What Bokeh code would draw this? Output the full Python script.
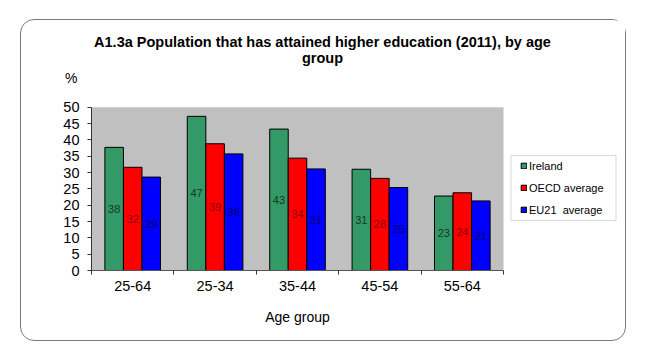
from bokeh.plotting import figure
from bokeh.models import (ColumnDataSource, LabelSet, Label, Legend, LegendItem, FixedTicker,
                          Range1d, BoxAnnotation, LinearAxis)
from bokeh.core.properties import value
from bokeh.embed import file_html
from bokeh.resources import INLINE

categories = ["25-64", "25-34", "35-44", "45-54", "55-64"]
ireland = [37.7, 47.2, 43.3, 31.0, 22.8]
oecd = [31.6, 38.8, 34.4, 28.2, 23.8]
eu21 = [28.6, 35.7, 31.1, 25.4, 21.3]
series_names = ["Ireland", "OECD average", "EU21  average"]
y_ticks = [0, 5, 10, 15, 20, 25, 30, 35, 40, 45, 50]
y_max = 50

FONT = "Liberation Sans"
# canvas sits inside a 1px CSS border at page offset (21, 20)
W, H = 606, 322
FL, FB = 70, 72                 # left / bottom panels (axes)
FW, FH = W - FL, H - FB          # frame size (frame also spans title & legend area)
PX_X = 412 / len(categories)     # px per category
PX_Y = 163.3 / y_max             # px per percent

def sx(page_x):                  # page x -> frame-relative screen x
    return page_x - 21 - FL

def sy(page_y):                  # page y -> frame-relative screen y (from bottom)
    return (20 + FH) - page_y

p = figure(width=W, height=H, output_backend="svg", toolbar_location=None,
           x_range=Range1d(0, FW / PX_X), y_range=Range1d(0, FH / PX_Y),
           min_border_left=FL, min_border_right=0, min_border_top=0, min_border_bottom=FB,
           background_fill_color="white", border_fill_color=None)
p.styles = {"margin-left": "20px", "margin-top": "19px", "border": "1px solid #7a7a7a",
            "border-radius": "14px"}
p.outline_line_color = None
p.grid.visible = False

# grey plot area
p.add_layout(BoxAnnotation(left=0, right=len(categories), bottom=0, top=y_max,
                           fill_color="#C0C0C0", fill_alpha=1, line_color=None, level="underlay"))

bw = 0.225
colors = ["#339966", "#FF0000", "#0000FF"]
label_colors = ["#123a24", "#900000", "#000066"]
renderers = []
for k, (vals, col, lc) in enumerate(zip([ireland, oecd, eu21], colors, label_colors)):
    off = (k - 1) * bw
    xs = [i + 0.5 + off for i in range(len(categories))]
    src = ColumnDataSource(dict(x=xs, top=vals, mid=[v / 2 for v in vals],
                                lab=[f"{round(v)}" for v in vals]))
    r = p.vbar(x="x", top="top", bottom=0, width=bw, source=src,
               fill_color=col, line_color="black", line_width=1)
    renderers.append(r)
    p.add_layout(LabelSet(x="x", y="mid", text="lab", source=src, text_align="center",
                          text_baseline="middle", text_font=value(FONT),
                          text_font_size=value("11px"), text_color=lc))

# y axis
ya = p.yaxis[0]
ya.ticker = FixedTicker(ticks=y_ticks)
ya.bounds = (0, y_max)
ya.major_label_text_font = FONT
ya.major_label_text_font_size = "14.5px"
ya.major_label_text_color = "black"
ya.major_tick_out = 4
ya.major_tick_in = 0
ya.minor_tick_line_color = None
ya.major_label_standoff = 8
ya.axis_line_color = "#333333"
ya.major_tick_line_color = "#333333"

# "%" unit label, as an extra axis with one labelled position above the plot area
pct_pos = sy(77) / PX_Y
pct_axis = LinearAxis(ticker=FixedTicker(ticks=[pct_pos]),
                      major_label_overrides={pct_pos: "%"},
                      axis_line_color=None, major_tick_line_color=None,
                      minor_tick_line_color=None, major_tick_out=0, major_tick_in=0,
                      major_label_standoff=-17, major_label_text_font=FONT,
                      major_label_text_font_size="14px", major_label_text_color="black")
p.add_layout(pct_axis, "left")

# x axis
xa = p.xaxis[0]
xa.ticker = FixedTicker(ticks=[i + 0.5 for i in range(len(categories))],
                        minor_ticks=list(range(len(categories) + 1)))
xa.bounds = (0, len(categories))
xa.major_label_overrides = {i + 0.5: c for i, c in enumerate(categories)}
xa.major_tick_line_color = None
xa.major_tick_out = 0
xa.minor_tick_out = 4
xa.minor_tick_in = 0
xa.minor_tick_line_color = "#333333"
xa.axis_line_color = "#555555"
xa.major_label_text_font = FONT
xa.major_label_text_font_size = "14.5px"
xa.major_label_text_color = "black"
xa.major_label_standoff = 6

# "Age group" axis title, centred under the categories
mid_cat = len(categories) / 2
name_axis = LinearAxis(ticker=FixedTicker(ticks=[mid_cat]),
                       major_label_overrides={mid_cat: "Age group"},
                       axis_line_color=None, major_tick_line_color=None,
                       minor_tick_line_color=None, major_tick_out=0, major_tick_in=0,
                       major_label_standoff=15, major_label_text_font=FONT,
                       major_label_text_font_size="14px", major_label_text_color="black")
p.add_layout(name_axis, "below")

# title (two lines, centred)
for txt, py in [("A1.3a Population that has attained higher education (2011), by age", 41),
                ("group", 57.5)]:
    p.add_layout(Label(x=sx(322), y=sy(py), x_units="screen", y_units="screen", text=txt,
                       text_align="center", text_baseline="middle", text_font=FONT,
                       text_font_size="14.5px", text_font_style="bold", text_color="black"))

# legend box + legend
p.add_layout(BoxAnnotation(left=sx(510.5), right=sx(615.5), top=sy(155), bottom=sy(220),
                           left_units="screen", right_units="screen", top_units="screen",
                           bottom_units="screen", fill_color="white", fill_alpha=1,
                           line_color="#808080", line_width=1))
legend = Legend(items=[LegendItem(label=n, renderers=[r]) for n, r in zip(series_names, renderers)],
                location=(sx(520), sy(216.7)), padding=0, spacing=8, label_height=14,
                glyph_height=7, glyph_width=7, label_standoff=2, margin=0,
                border_line_color=None, background_fill_alpha=0,
                label_text_font=FONT, label_text_font_size="11px", label_text_color="black")
p.add_layout(legend)

open("out.html", "w").write(file_html(p, INLINE))
